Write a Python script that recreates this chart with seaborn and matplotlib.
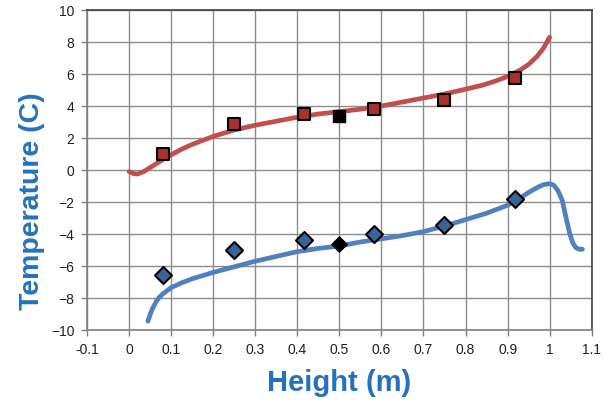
import matplotlib
matplotlib.use("Agg")
import matplotlib.pyplot as plt
import seaborn as sns
import pandas as pd

# Model curves (height in m, temperature in C)
warm_curve_x = [0.0, 0.01, 0.02, 0.035, 0.05, 0.065, 0.08, 0.10, 0.125, 0.15, 0.175, 0.20,
                0.25, 0.30, 0.35, 0.40, 0.45, 0.50, 0.55, 0.60, 0.65, 0.70, 0.75, 0.80,
                0.84, 0.87, 0.90, 0.93, 0.95, 0.97, 0.985, 1.00]
warm_curve_y = [-0.1, -0.22, -0.25, -0.1, 0.15, 0.4, 0.65, 0.95, 1.3, 1.6, 1.85, 2.1,
                2.5, 2.8, 3.05, 3.3, 3.5, 3.65, 3.8, 4.0, 4.25, 4.5, 4.75, 5.05,
                5.3, 5.55, 5.85, 6.25, 6.6, 7.1, 7.6, 8.3]

cold_curve_x = [0.045, 0.05, 0.055, 0.06, 0.065, 0.072, 0.08, 0.09, 0.10, 0.125, 0.15, 0.20,
                0.25, 0.30, 0.35, 0.40, 0.45, 0.50, 0.55, 0.60, 0.65, 0.70, 0.75, 0.80,
                0.85, 0.90, 0.93, 0.95, 0.97, 0.985, 1.00, 1.01, 1.02, 1.03, 1.04,
                1.048, 1.055, 1.062, 1.07, 1.078]
cold_curve_y = [-9.45, -9.05, -8.7, -8.45, -8.2, -7.95, -7.75, -7.55, -7.35, -7.05, -6.8, -6.4,
                -6.05, -5.7, -5.4, -5.1, -4.9, -4.75, -4.5, -4.3, -4.1, -3.85, -3.5, -3.1,
                -2.7, -2.2, -1.75, -1.4, -1.1, -0.92, -0.85, -0.95, -1.3, -1.9, -3.1,
                -4.0, -4.55, -4.85, -4.95, -4.95]

# Measured points
meas_x = [0.08, 0.25, 0.417, 0.583, 0.75, 0.917]
warm_meas = [1.0, 2.85, 3.5, 3.8, 4.35, 5.75]
cold_meas = [-6.55, -5.0, -4.35, -4.0, -3.45, -1.8]

# Mid-height reference points
mid_x = [0.5]
warm_mid = [3.4]
cold_mid = [-4.65]

x_ticks = [-0.1, 0, 0.1, 0.2, 0.3, 0.4, 0.5, 0.6, 0.7, 0.8, 0.9, 1, 1.1]
x_tick_labels = ["-0.1", "0", "0.1", "0.2", "0.3", "0.4", "0.5", "0.6", "0.7", "0.8", "0.9", "1", "1.1"]
y_ticks = [-10, -8, -6, -4, -2, 0, 2, 4, 6, 8, 10]

sns.set_style("white")
plt.rcParams["font.family"] = ["Liberation Sans", "DejaVu Sans"]

RED = "#C0504D"
BLUE = "#4F81BD"
LABEL_BLUE = "#2472BE"

fig = plt.figure(figsize=(6.10, 4.01), dpi=100)
ax = fig.add_axes([0.1426, 0.177, 0.8274, 0.798])

warm_df = pd.DataFrame({"h": warm_curve_x, "t": warm_curve_y})
cold_df = pd.DataFrame({"h": cold_curve_x, "t": cold_curve_y})
sns.lineplot(data=warm_df, x="h", y="t", sort=False, estimator=None, color=RED,
             linewidth=3.4, ax=ax, zorder=3)
sns.lineplot(data=cold_df, x="h", y="t", sort=False, estimator=None, color=BLUE,
             linewidth=3.4, ax=ax, zorder=3)
for line in ax.lines:
    line.set_solid_joinstyle("round")
    line.set_solid_capstyle("round")

sns.scatterplot(x=meas_x, y=warm_meas, marker="s", s=85, color="#A8312E",
                edgecolor="black", linewidth=1.5, ax=ax, zorder=4)
sns.scatterplot(x=meas_x, y=cold_meas, marker="D", s=75, color="#3A6396",
                edgecolor="black", linewidth=1.5, ax=ax, zorder=4)
sns.scatterplot(x=mid_x, y=warm_mid, marker="s", s=85, color="black",
                edgecolor="black", linewidth=1.0, ax=ax, zorder=4)
sns.scatterplot(x=mid_x, y=cold_mid, marker="D", s=60, color="black",
                edgecolor="black", linewidth=1.0, ax=ax, zorder=4)

ax.set_xlim(-0.1, 1.1)
ax.set_ylim(-10, 10)
ax.set_xticks(x_ticks)
ax.set_xticklabels(x_tick_labels)
ax.set_yticks(y_ticks)
ax.grid(True, color="#8C8C8C", linewidth=1.0)
ax.set_axisbelow(True)
for side in ["left", "right", "top", "bottom"]:
    ax.spines[side].set_color("#7F7F7F")
    ax.spines[side].set_linewidth(1.2)
ax.spines["right"].set_color("#404040")
ax.spines["top"].set_color("#404040")
ax.tick_params(axis="both", which="major", direction="out", length=4, width=1,
               color="#7F7F7F", labelsize=10, labelcolor="#202020", pad=5,
               bottom=True, left=True)

ax.set_xlabel("Height (m)", fontsize=21, fontweight="bold", color=LABEL_BLUE, labelpad=9)
ax.set_ylabel("Temperature (C)", fontsize=20.5, fontweight="bold", color=LABEL_BLUE)
ax.yaxis.set_label_coords(-0.083, 0.403)

fig.savefig("out.png", dpi=100)
